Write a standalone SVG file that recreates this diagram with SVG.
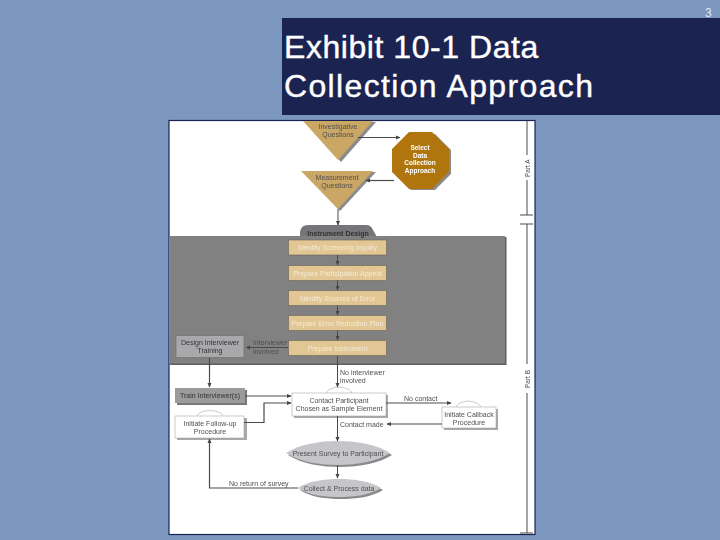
<svg xmlns="http://www.w3.org/2000/svg" width="720" height="540" viewBox="0 0 720 540">
<style>
text{font-family:"Liberation Sans",Arial,sans-serif}
.t{font-size:7px;fill:#4f4f4f;text-anchor:middle}
.w{font-size:7px;fill:#f4ead6;text-anchor:middle}
.l{font-size:7px;fill:#4f4f4f}
.h{font-size:32px;fill:#fff;stroke:#fff;stroke-width:.4}
.c{fill:none;stroke:#4a4a4a;stroke-width:1}
.c2{fill:none;stroke:#4a4a4a;stroke-width:1.2}
.box{fill:#e2c795;stroke:#6a6257;stroke-width:.6}
.wb{fill:#fff;stroke:#999;stroke-width:.5}
.sh{fill:#8a8a8a}
.tri{fill:#cba765}
.g{fill:#c6c6ca}
.oct{font-size:6.500px;font-weight:bold;fill:#fff;text-anchor:middle}
</style>
<defs>
<marker id="a" markerWidth="5" markerHeight="5" refX="4" refY="2.5" orient="auto" markerUnits="userSpaceOnUse"><path d="M0 .5L4.500 2.500L0 4.500z" fill="#444"/></marker>
<filter id="s" x="-2%" y="-2%" width="104%" height="104%"><feGaussianBlur stdDeviation=".45"/></filter>
</defs>
<rect id="background" width="720" height="540" fill="#7b96bf"/>
<g id="title">
<rect x="282" y="18" width="438" height="97" fill="#1b2350"/>
<text class="h" x="284" y="58" letter-spacing=".55">Exhibit 10-1 Data</text>
<text class="h" x="284" y="97" letter-spacing="1.350">Collection Approach</text>
<text x="705" y="17" font-size="12" fill="#e4e9f2">3</text>
</g>
<rect x="169" y="120.500" width="366" height="414" fill="#fff" stroke="#1b2350" stroke-width="1.200"/>
<g filter="url(#s)">
<g id="rail">
<path class="c" d="M527 121V155M527 180V215M527 224V364M527 393V533M520 215H533M520 224H533M520 533H533"/>
<text class="l" transform="translate(530 177) rotate(-90)" style="font-size:6.500px">Part A</text>
<text class="l" transform="translate(530 388) rotate(-90)" style="font-size:6.500px">Part B</text>
</g>
<g id="investigative-questions">
<path class="sh" d="M306 122H376L341 162z"/>
<path class="tri" d="M303 121H373L338 160z"/>
<text class="t" x="338" y="129">Investigative</text><text class="t" x="338" y="137">Questions</text>
</g>
<g id="select-approach">
<path class="sh" d="M411 134H435L451 150V174L435 190H411L395 174V150z"/>
<path fill="#b0760f" d="M409 132H432L449 149V172L432 189H409L392 172V149z"/>
<text class="oct" x="420" y="149.500">Select</text>
<text class="oct" x="420" y="157.500">Data</text>
<text class="oct" x="420" y="165">Collection</text>
<text class="oct" x="420" y="172.500">Approach</text>
</g>
<g id="measurement-questions">
<path class="sh" d="M304 172H376L340 211z"/>
<path class="tri" d="M301 171H373L338 209z"/>
<text class="t" x="337" y="180">Measurement</text><text class="t" x="337" y="188">Questions</text>
</g>
<g id="instrument-design">
<path fill="#76767a" d="M300 237V232Q301 225 308 225H366Q371 225 373 230L377 237z"/>
</g>
<g id="instrument-panel">
<rect x="170" y="237" width="336.500" height="128" fill="#5e5e5e"/>
<rect x="169" y="236" width="336" height="127.500" fill="#818181"/>
<text x="338" y="236" style="font-size:7px;font-weight:bold;fill:#333;text-anchor:middle">Instrument Design</text>
</g>
<g id="identify-screening"><rect class="box" x="288.500" y="240" width="98" height="15"/><text class="w" x="337.500" y="250">Identify Screening Inquiry</text></g>
<g id="prepare-appeal"><rect class="box" x="288.500" y="265.500" width="98" height="15"/><text class="w" x="337.500" y="275.500">Prepare Participation Appeal</text></g>
<g id="identify-sources"><rect class="box" x="288.500" y="290.500" width="98" height="15"/><text class="w" x="337.500" y="300.500">Identify Sources of Error</text></g>
<g id="prepare-plan"><rect class="box" x="288.500" y="315.500" width="98" height="15"/><text class="w" x="337.500" y="325.500">Prepare Error Reduction Plan</text></g>
<g id="prepare-instrument"><rect class="box" x="288.500" y="340.500" width="98" height="15"/><text class="w" x="337.500" y="350.500">Prepare Instrument</text></g>
<g id="design-training"><rect x="176" y="335.500" width="68" height="22" fill="#a9a9ac" stroke="#6d6d6d" stroke-width=".6"/><text class="t" x="210" y="344.500" style="fill:#333">Design Interviewer</text><text class="t" x="210" y="352.500" style="fill:#333">Training</text></g>
<g id="train-interviewers"><rect x="177" y="390" width="70" height="15" fill="#777"/><rect x="175" y="388" width="70" height="15" fill="#9b9b9b"/><text class="t" x="210" y="398" style="fill:#333">Train Interviewer(s)</text></g>
<g id="follow-up"><rect x="177" y="418" width="70" height="22" fill="#aaa"/><path class="wb" d="M197 416Q199 411 210 410.500Q221 411 223 416"/><rect class="wb" x="175" y="416" width="69" height="22"/><text class="t" x="210" y="426">Initiate Follow-up</text><text class="t" x="210" y="434">Procedure</text></g>
<g id="contact"><rect x="294" y="395" width="94" height="23" fill="#aaa"/><path class="wb" d="M326 393Q328 388 339 387Q350 388 352 393"/><rect class="wb" x="292" y="393" width="94" height="23"/><text class="t" x="339" y="403">Contact Participant</text><text class="t" x="339" y="411">Chosen as Sample Element</text></g>
<g id="callback"><rect x="444" y="409" width="54" height="21" fill="#aaa"/><path class="wb" d="M456 407Q458 402 468 401Q479 402 481 407"/><rect class="wb" x="442" y="407" width="54" height="21"/><text class="t" x="469" y="416.500">Initiate Callback</text><text class="t" x="469" y="424.500">Procedure</text></g>
<g id="present-survey"><path class="sh" transform="translate(2 2)" d="M286 453C300 444 320 441 338 441C358 441 378 445 390 453C378 461 358 465 338 465C320 465 300 462 286 453z"/><path class="g" d="M286 453C300 444 320 441 338 441C358 441 378 445 390 453C378 461 358 465 338 465C320 465 300 462 286 453z"/><text class="t" x="338" y="456">Present Survey to Participant</text></g>
<g id="collect"><path class="sh" transform="translate(2 2)" d="M298 488C308 481 324 479 339 479C354 479 370 481 381 488C370 495 354 497 339 497C324 497 308 495 298 488z"/><path class="g" d="M298 488C308 481 324 479 339 479C354 479 370 481 381 488C370 495 354 497 339 497C324 497 308 495 298 488z"/><text class="t" x="339" y="491">Collect &amp; Process data</text></g>
<g id="connectors">
<path class="c2" marker-end="url(#a)" d="M358 137.500H400"/>
<path class="c2" marker-end="url(#a)" d="M394 180.500H366"/>
<path class="c" marker-end="url(#a)" d="M338 209V225"/>
<path class="c" marker-end="url(#a)" d="M337.500 255V265"/>
<path class="c" marker-end="url(#a)" d="M337.500 280.500V290"/>
<path class="c" marker-end="url(#a)" d="M337.500 305.500V315"/>
<path class="c" marker-end="url(#a)" d="M337.500 330.500V340"/>
<path class="c2" marker-end="url(#a)" d="M288 347.500H246"/>
<path class="c2" marker-end="url(#a)" d="M209.500 358V387"/>
<path class="c" marker-end="url(#a)" d="M337.500 356V387"/>
<path class="c2" marker-end="url(#a)" d="M245 396H291"/>
<path class="c2" marker-end="url(#a)" d="M244 422.500H264V403H291"/>
<path class="c" marker-end="url(#a)" d="M386 403H451"/>
<path class="c" marker-end="url(#a)" d="M442 424H387"/>
<path class="c" marker-end="url(#a)" d="M337.500 416V441"/>
<path class="c" marker-end="url(#a)" d="M337.500 465V478"/>
<path class="c2" marker-end="url(#a)" d="M298 488H209.500V439"/>
</g>
<g id="labels">
<text class="l" x="253" y="345">Interviewer</text><text class="l" x="253" y="354">involved</text>
<text class="l" x="340" y="374.500">No interviewer</text><text class="l" x="340" y="382.500">involved</text>
<text class="l" x="404" y="401">No contact</text>
<text class="l" x="340" y="427">Contact made</text>
<text class="l" x="229" y="486">No return of survey</text>
</g>
</g>
</svg>
